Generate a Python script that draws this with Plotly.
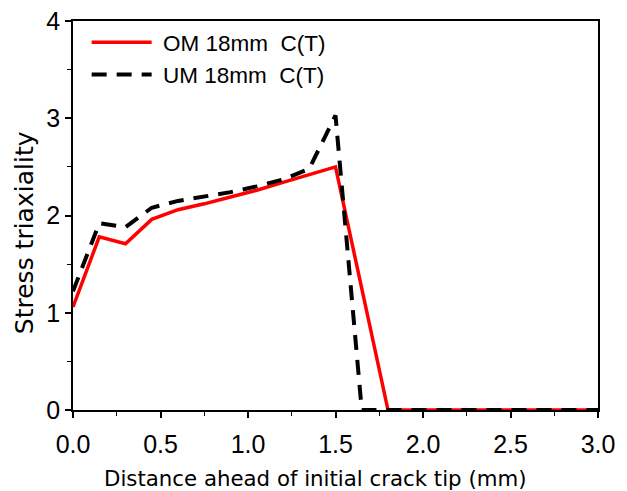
import plotly.graph_objects as go

x_om = [0.0, 0.15, 0.3, 0.45, 0.6, 0.75, 0.9, 1.05, 1.2, 1.35, 1.5, 1.8, 1.95, 2.1, 2.25, 2.4, 2.55, 2.7, 2.85, 3.0]
y_om = [1.06, 1.78, 1.71, 1.96, 2.06, 2.12, 2.19, 2.26, 2.34, 2.42, 2.50, 0.0, 0.0, 0.0, 0.0, 0.0, 0.0, 0.0, 0.0, 0.0]

x_um = [0.0, 0.15, 0.3, 0.45, 0.6, 0.75, 0.9, 1.05, 1.2, 1.35, 1.5, 1.65, 1.8, 1.95, 2.1, 2.25, 2.4, 2.55, 2.7, 2.85, 3.0]
y_um = [1.22, 1.92, 1.88, 2.08, 2.15, 2.19, 2.24, 2.30, 2.37, 2.48, 3.03, 0.0, 0.0, 0.0, 0.0, 0.0, 0.0, 0.0, 0.0, 0.0, 0.0]

x_ticks = [0.0, 0.5, 1.0, 1.5, 2.0, 2.5, 3.0]
x_ticklabels = ["0.0", "0.5", "1.0", "1.5", "2.0", "2.5", "3.0"]
y_ticks = [0, 1, 2, 3, 4]
y_ticklabels = ["0", "1", "2", "3", "4"]

x_title = "Distance ahead of initial crack tip (mm)"
y_title = "Stress triaxiality"

fig = go.Figure()
fig.add_trace(go.Scatter(x=x_om, y=y_om, mode="lines", name=" OM 18mm  C(T)",
                         line=dict(color="#ff0000", width=3.5)))
fig.add_trace(go.Scatter(x=x_um, y=y_um, mode="lines", name=" UM 18mm  C(T)",
                         line=dict(color="#000000", width=4, dash="15px,10px")))

axis_common = dict(showline=True, linecolor="black", linewidth=1.5, mirror=True,
                   ticks="outside", ticklen=6, tickwidth=1.5, tickcolor="black",
                   showgrid=False, zeroline=False, automargin=False,
                   ticklabeloverflow="allow",
                   tickfont=dict(family="Liberation Sans, Arial", size=25, color="black"))

fig.update_xaxes(range=[0, 3], tickvals=x_ticks, ticktext=x_ticklabels,
                 ticklabelstandoff=5,
                 minor=dict(dtick=0.25, ticks="outside", ticklen=4, tickcolor="black", tickwidth=1.2),
                 **axis_common)
fig.update_yaxes(range=[0, 4], tickvals=y_ticks, ticktext=y_ticklabels,
                 minor=dict(dtick=0.5, ticks="outside", ticklen=4, tickcolor="black", tickwidth=1.2),
                 **axis_common)

title_font = dict(family="DejaVu Sans, Verdana", color="black")
fig.add_annotation(text=x_title, xref="paper", yref="paper", x=0.055, y=-0.175,
                   xanchor="left", yanchor="middle", showarrow=False,
                   font=dict(size=21.3, **title_font))
fig.add_annotation(text=y_title, xref="paper", yref="paper", x=-0.093, y=0.455,
                   xanchor="center", yanchor="middle", textangle=-90, showarrow=False,
                   font=dict(size=25, **title_font))

# page body adds an 8px offset at top/left, so the figure is sized 8px smaller
fig.update_layout(
    width=619, height=483,
    margin=dict(l=65, r=29, t=13, b=81),
    plot_bgcolor="white", paper_bgcolor="white",
    legend=dict(x=0.026, y=1.0, xanchor="left", yanchor="top",
                bgcolor="rgba(0,0,0,0)", itemwidth=60, tracegroupgap=0,
                font=dict(family="Liberation Sans, Arial", size=22.5, color="black")),
)

fig.write_html("out.html")
